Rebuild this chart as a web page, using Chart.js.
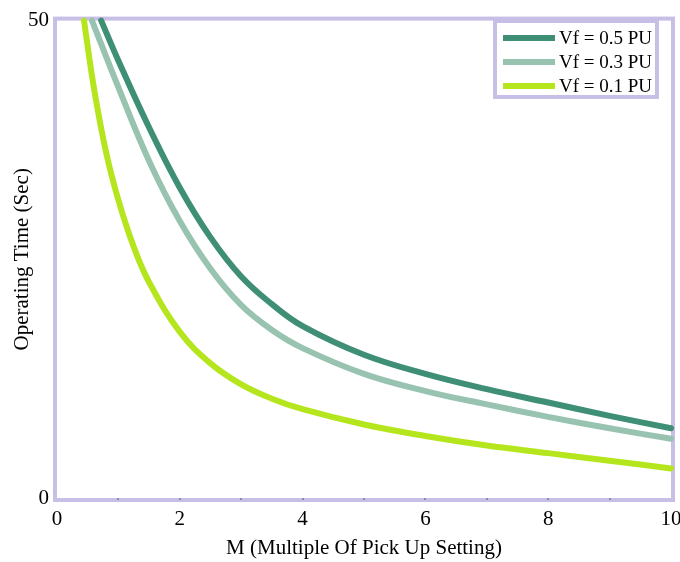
<!DOCTYPE html>
<html>
<head>
<meta charset="utf-8">
<script src="https://cdn.jsdelivr.net/npm/chart.js@4/dist/chart.umd.min.js"></script>
<style>
    html, body { margin: 0; padding: 0; background: #fff; }
    #wrap { width: 680px; height: 562px; }
</style>
</head>
<body>
<div id="wrap"><canvas id="chart" width="680" height="562"></canvas></div>
<script>
// values
const seriesLabels = ['Vf = 0.5 PU', 'Vf = 0.3 PU', 'Vf = 0.1 PU'];
const seriesColors = ['#3e8f76', '#98c3b0', '#b5e61d'];

const mVf05 = [0.72, 1, 1.5, 2, 2.5, 3, 3.5, 4, 5, 6, 7, 8, 9, 10];
const tVf05 = [50, 45.8, 38.8, 32.5, 27.3, 23.2, 20.3, 18, 15, 13, 11.4, 10, 8.6, 7.3];

const mVf03 = [0.57, 1, 1.5, 2, 2.5, 3, 3.5, 4, 5, 6, 7, 8, 9, 10];
const tVf03 = [50, 43, 35.3, 29, 24, 20.2, 17.6, 15.7, 13, 11.2, 9.8, 8.5, 7.3, 6.2];

const mVf01 = [0.44, 0.6, 0.8, 1, 1.25, 1.5, 2, 2.5, 3, 3.5, 4, 5, 6, 7, 8, 9, 10];
const tVf01 = [50, 43, 36.2, 31.2, 26.3, 22.6, 17.4, 14.1, 11.9, 10.4, 9.3, 7.7, 6.5, 5.5, 4.7, 3.9, 3.1];

const xTicks = [0, 2, 4, 6, 8, 10];
const yTicks = [0, 50];

const serif = "'Liberation Serif', 'DejaVu Serif', serif";

const toPoints = (xs, ys) => xs.map((x, i) => ({ x, y: ys[i] }));

const frame = {
    id: 'frame',
    beforeDatasetsDraw(chart) {
        const { ctx, chartArea: a, scales } = chart;
        ctx.save();
        ctx.strokeStyle = '#c8bfe7';
        ctx.lineWidth = 4;
        ctx.strokeRect(a.left - 2, a.top - 2, a.width + 4, a.height + 4);
        // small minor tick dots along the bottom edge
        ctx.fillStyle = '#8f8aa6';
        for (let v = 1; v < 10; v++) {
            const px = scales.x.getPixelForValue(v);
            ctx.fillRect(Math.round(px) - 1, a.bottom, 2, 2);
        }
        ctx.restore();
    },
    afterDraw(chart) {
        const { ctx } = chart;
        const box = { x: 495, y: 21, w: 162, h: 76 };
        ctx.save();
        ctx.fillStyle = '#fff';
        ctx.fillRect(box.x, box.y, box.w, box.h);
        ctx.strokeStyle = '#c8bfe7';
        ctx.lineWidth = 4;
        ctx.strokeRect(box.x, box.y, box.w, box.h);
        ctx.font = '19px ' + serif;
        ctx.textBaseline = 'middle';
        chart.data.datasets.forEach((ds, i) => {
            const y = 38 + i * 24;
            ctx.strokeStyle = ds.borderColor;
            ctx.lineWidth = 6;
            ctx.lineCap = 'butt';
            ctx.beginPath();
            ctx.moveTo(503, y);
            ctx.lineTo(555, y);
            ctx.stroke();
            ctx.fillStyle = '#000';
            ctx.fillText(ds.label, 559, y + 1);
        });
        ctx.restore();
    }
};

new Chart(document.getElementById('chart'), {
    type: 'line',
    data: {
        datasets: [
            { label: seriesLabels[0], data: toPoints(mVf05, tVf05), borderColor: seriesColors[0] },
            { label: seriesLabels[1], data: toPoints(mVf03, tVf03), borderColor: seriesColors[1] },
            { label: seriesLabels[2], data: toPoints(mVf01, tVf01), borderColor: seriesColors[2] },
        ].map(ds => Object.assign(ds, {
            borderWidth: 6,
            borderCapStyle: 'round',
            borderJoinStyle: 'round',
            pointRadius: 0,
            fill: false,
            tension: 0.4,
            clip: false,
        })),
    },
    options: {
        responsive: false,
        animation: false,
        layout: { padding: { top: 13, right: 0, left: 0, bottom: 0 } },
        plugins: {
            legend: { display: false },
            tooltip: { enabled: false },
        },
        scales: {
            x: {
                type: 'linear',
                min: 0,
                max: 10,
                afterFit: (scale) => {
                    scale.height = 64;
                    scale.paddingRight = 9;
                },
                afterBuildTicks: (scale) => { scale.ticks = xTicks.map(v => ({ value: v })); },
                grid: { display: false, drawTicks: false },
                border: { display: false },
                ticks: { color: '#000', padding: 9, font: { family: serif, size: 21 }, maxRotation: 0 },
                title: {
                    display: true,
                    text: 'M (Multiple Of Pick Up Setting)',
                    color: '#000',
                    font: { family: serif, size: 21 },
                    padding: { top: 0, bottom: 1 },
                },
            },
            y: {
                type: 'linear',
                min: 0,
                max: 50,
                afterFit: (scale) => { scale.width = 57; },
                afterBuildTicks: (scale) => { scale.ticks = yTicks.map(v => ({ value: v })); },
                grid: { display: false, drawTicks: false },
                border: { display: false },
                ticks: { color: '#000', padding: 8, font: { family: serif, size: 21 } },
                title: {
                    display: true,
                    text: 'Operating Time (Sec)',
                    color: '#000',
                    font: { family: serif, size: 21 },
                    padding: { top: 10, bottom: 0 },
                },
            },
        },
    },
    plugins: [frame],
});
</script>
</body>
</html>
